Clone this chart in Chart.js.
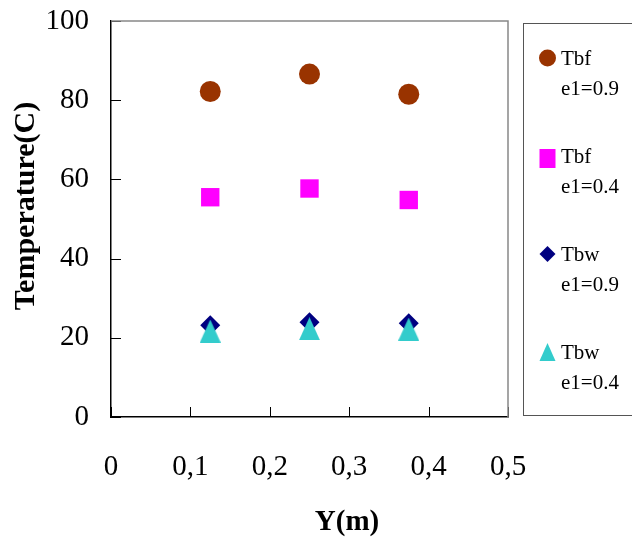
<!DOCTYPE html>
<html>
<head>
<meta charset="utf-8">
<script src="https://cdn.jsdelivr.net/npm/chart.js@4/dist/chart.umd.min.js"></script>
<style>
  html, body { margin: 0; padding: 0; background: #fff; }
  #wrap { width: 632px; height: 547px; position: relative; }
</style>
</head>
<body>
<div id="wrap"><canvas id="chart"></canvas></div>
<script>
// positions along the wall (m)
const yPositions = [0.125, 0.25, 0.375];

// temperatures (C) for each series
const tbf09 = [82.2, 86.6, 81.5];
const tbf04 = [55.5, 57.7, 54.8];
const tbw09 = [23.2, 23.9, 23.7];
const tbw04 = [21.7, 22.3, 22.2];

const seriesNames = ["Tbf", "Tbf", "Tbw", "Tbw"];
const seriesSub = ["e1=0.9", "e1=0.4", "e1=0.9", "e1=0.4"];
const seriesColors = ["#993300", "#FF00FF", "#000080", "#33CCCC"];

const xTickLabels = ["0", "0,1", "0,2", "0,3", "0,4", "0,5"];
const yTickLabels = ["0", "20", "40", "60", "80", "100"];

const FONT = "'Liberation Serif', 'Times New Roman', serif";

// triangle marker, a bit taller than wide like the original
function makeTriangle(w, h, color) {
  const c = document.createElement("canvas");
  c.width = w;
  c.height = h;
  const g = c.getContext("2d");
  g.fillStyle = color;
  g.beginPath();
  g.moveTo(w / 2, 0);
  g.lineTo(w, h);
  g.lineTo(0, h);
  g.closePath();
  g.fill();
  return c;
}

const toPoints = (vals) => vals.map((v, i) => ({ x: yPositions[i], y: v }));

const styles = [
  { pointStyle: "circle", radius: 10.5 },
  { pointStyle: "rect", radius: 13 },
  { pointStyle: "rectRot", radius: 10 },
  { pointStyle: makeTriangle(21, 23, seriesColors[3]), radius: 11 },
];
const series = [tbf09, tbf04, tbw09, tbw04];

const datasets = series.map((vals, i) => ({
  label: seriesNames[i] + " " + seriesSub[i],
  data: toPoints(vals),
  backgroundColor: seriesColors[i],
  borderColor: seriesColors[i],
  pointBorderWidth: 0,
  pointStyle: styles[i].pointStyle,
  pointRadius: styles[i].radius,
  pointHoverRadius: styles[i].radius,
  order: 3 - i,
}));

// inner tick marks, grey top/right frame, axis titles and boxed legend
const decor = {
  id: "decor",
  afterDraw(chart) {
    const { ctx, chartArea: a, scales } = chart;
    ctx.save();
    ctx.strokeStyle = "#000";
    ctx.lineWidth = 1;
    ctx.beginPath();
    scales.y.ticks.forEach((t) => {
      const py = Math.round(scales.y.getPixelForValue(t.value)) + 0.5;
      ctx.moveTo(a.left, py);
      ctx.lineTo(a.left + 10, py);
    });
    scales.x.ticks.forEach((t) => {
      const px = Math.round(scales.x.getPixelForValue(t.value)) + 0.5;
      ctx.moveTo(px, a.bottom);
      ctx.lineTo(px, a.bottom - 10);
    });
    ctx.stroke();

    ctx.strokeStyle = "#888";
    ctx.lineWidth = 1.5;
    ctx.beginPath();
    ctx.moveTo(a.left, a.top);
    ctx.lineTo(a.right, a.top);
    ctx.lineTo(a.right, a.bottom);
    ctx.stroke();

    // axis titles
    ctx.fillStyle = "#000";
    ctx.font = "bold 29px " + FONT;
    ctx.textAlign = "center";
    ctx.textBaseline = "middle";
    ctx.fillText("Y(m)", 347, 523);
    ctx.font = "bold 30px " + FONT;
    ctx.save();
    ctx.translate(26, 206);
    ctx.rotate(-Math.PI / 2);
    ctx.fillText("Temperature(C)", 0, 0);
    ctx.restore();

    // legend box
    ctx.strokeStyle = "#555";
    ctx.lineWidth = 1;
    ctx.strokeRect(523.5, 23.5, 140, 392);
    ctx.font = "21px " + FONT;
    ctx.textAlign = "left";
    chart.data.datasets.forEach((ds, i) => {
      const cy = 58 + i * 98;
      const cx = 547.5;
      ctx.fillStyle = seriesColors[i];
      ctx.beginPath();
      if (i === 0) {
        ctx.arc(cx, cy, 8.5, 0, Math.PI * 2);
      } else if (i === 1) {
        ctx.rect(cx - 8, cy - 7, 16, 19);
      } else if (i === 2) {
        ctx.moveTo(cx - 8, cy);
        ctx.lineTo(cx, cy - 8);
        ctx.lineTo(cx + 8, cy);
        ctx.lineTo(cx, cy + 8);
      } else {
        ctx.moveTo(cx, cy - 9);
        ctx.lineTo(cx + 8, cy + 9);
        ctx.lineTo(cx - 8, cy + 9);
      }
      ctx.closePath();
      ctx.fill();
      ctx.fillStyle = "#000";
      ctx.fillText(seriesNames[i], 561, cy + 1);
      ctx.fillText(seriesSub[i], 561, cy + 31);
    });
    ctx.restore();
  },
};

new Chart(document.getElementById("chart"), {
  type: "scatter",
  data: { datasets },
  options: {
    responsive: true,
    maintainAspectRatio: false,
    animation: false,
    layout: { padding: { top: 21, right: 124, left: 0, bottom: 0 } },
    plugins: {
      legend: { display: false },
      tooltip: { enabled: false },
    },
    scales: {
      x: {
        type: "linear",
        min: 0,
        max: 0.5,
        grid: { display: false, drawTicks: false },
        border: { display: true, color: "#000", width: 1.5 },
        ticks: {
          stepSize: 0.1,
          padding: 33,
          color: "#000",
          font: { family: FONT, size: 29 },
          maxRotation: 0,
          callback: (v, i) => xTickLabels[i],
        },
        afterFit: (s) => {
          s.height = 130;
          s.paddingLeft = 0;
          s.paddingRight = 0;
        },
      },
      y: {
        min: 0,
        max: 100,
        grid: { display: false, drawTicks: false },
        border: { display: true, color: "#000", width: 1.5 },
        ticks: {
          stepSize: 20,
          padding: 22,
          color: "#000",
          font: { family: FONT, size: 29 },
          callback: (v, i) => yTickLabels[i],
        },
        afterFit: (s) => {
          s.width = 111;
          s.paddingTop = 0;
          s.paddingBottom = 0;
        },
      },
    },
  },
  plugins: [decor],
});
</script>
</body>
</html>
